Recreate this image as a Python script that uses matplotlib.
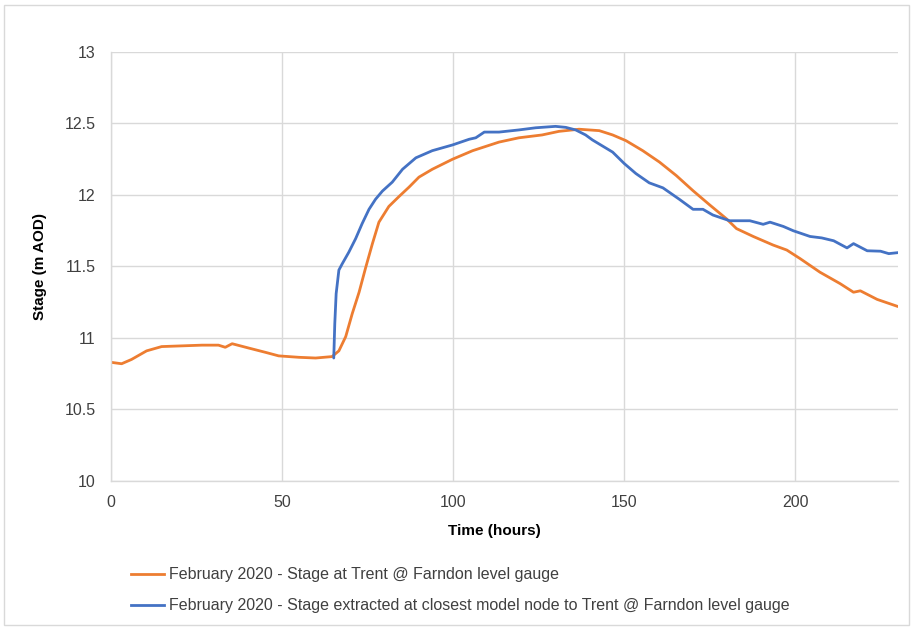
import matplotlib
matplotlib.use("Agg")
import matplotlib.pyplot as plt
from matplotlib.patches import Rectangle
from matplotlib.lines import Line2D

plt.rcParams['font.family'] = ['Liberation Sans', 'DejaVu Sans']

# Observed stage at Trent @ Farndon (orange)
obs_t = [0, 3.1, 6, 10.4, 14.8, 20.7, 26.6, 31.4, 33.4, 35.4, 40.2, 45.1, 49, 54.9, 59.8,
         64.6, 66.6, 68.6, 70.5, 72.5, 74.4, 76.4, 78.3, 81.2, 84.2, 87.1, 90, 93.9, 99.8,
         105.7, 113.4, 119.2, 126, 130.9, 136.8, 142.7, 146.6, 150.5, 155.4, 160.3, 165.2,
         170.1, 175, 179.8, 182.8, 187.7, 193.5, 197.5, 201.4, 207.2, 213.1, 217, 219,
         223.9, 230]
obs_v = [10.83, 10.82, 10.85, 10.91, 10.94, 10.945, 10.95, 10.95, 10.935, 10.96, 10.93,
         10.90, 10.875, 10.865, 10.86, 10.87, 10.91, 11.01, 11.17, 11.32, 11.49, 11.66,
         11.81, 11.92, 11.99, 12.055, 12.125, 12.18, 12.25, 12.31, 12.37, 12.40, 12.42,
         12.445, 12.46, 12.45, 12.42, 12.38, 12.31, 12.23, 12.136, 12.03, 11.93, 11.835,
         11.765, 11.71, 11.65, 11.615, 11.555, 11.46, 11.38, 11.32, 11.33, 11.27, 11.22]

# Modelled stage at closest model node (blue)
mod_t = [65.1, 65.4, 65.8, 66.6, 67.6, 69.5, 71.5, 73.4, 75.4, 77.3, 79.3, 82.2, 85.2,
         89.1, 93.9, 99.8, 104.7, 106.6, 109.1, 113.4, 119.2, 124.1, 129.9, 132.9, 135.8,
         138.7, 140.7, 146.6, 150, 153.4, 157.3, 161.3, 166.1, 170.1, 173, 175.9, 180.8,
         186.7, 190.6, 192.6, 196.5, 199.4, 204.3, 207.7, 211.2, 215.1, 217, 221, 224.9,
         227.3, 230]
mod_v = [10.86, 11.10, 11.31, 11.475, 11.52, 11.60, 11.695, 11.80, 11.90, 11.97, 12.027,
         12.09, 12.18, 12.26, 12.31, 12.35, 12.39, 12.40, 12.44, 12.44, 12.455, 12.47,
         12.48, 12.473, 12.455, 12.42, 12.385, 12.30, 12.22, 12.15, 12.085, 12.05, 11.97,
         11.90, 11.90, 11.86, 11.82, 11.82, 11.795, 11.81, 11.78, 11.75, 11.71, 11.70,
         11.68, 11.63, 11.66, 11.61, 11.607, 11.59, 11.597]

x_ticks = [0, 50, 100, 150, 200]
y_ticks = [10, 10.5, 11, 11.5, 12, 12.5, 13]
y_labels = ['10', '10.5', '11', '11.5', '12', '12.5', '13']

labels = ['February 2020 - Stage at Trent @ Farndon level gauge',
          'February 2020 - Stage extracted at closest model node to Trent @ Farndon level gauge']
orange = '#ED7D31'
blue = '#4472C4'
grid_c = '#D9D9D9'
text_c = '#404040'

fig = plt.figure(figsize=(9.13, 6.3), dpi=100)
ax = fig.add_axes([111/913, 1-481/630, (898-111)/913, (481-52)/630])

ax.plot(obs_t, obs_v, color=orange, lw=2, solid_capstyle='round')
ax.plot(mod_t, mod_v, color=blue, lw=2, solid_capstyle='round')

ax.set_xlim(0, 230)
ax.set_ylim(10, 13)
ax.set_xticks(x_ticks)
ax.set_yticks(y_ticks)
ax.set_yticklabels(y_labels)
ax.grid(True, color=grid_c, lw=1)
ax.set_axisbelow(True)
for s in ['top', 'right']:
    ax.spines[s].set_visible(False)
for s in ['left', 'bottom']:
    ax.spines[s].set_color(grid_c)
    ax.spines[s].set_linewidth(1)
ax.tick_params(length=0, labelsize=11.5, colors=text_c)
ax.tick_params(axis='y', pad=11)
ax.tick_params(axis='x', pad=10)

ax.set_xlabel('Time (hours)', fontsize=11, fontweight='bold', color='black', labelpad=10, x=0.487)
ax.set_ylabel('Stage (m AOD)', fontsize=11, fontweight='bold', color='black', labelpad=13)

handles = [Line2D([], [], color=orange, lw=2), Line2D([], [], color=blue, lw=2)]
fig.legend(handles, labels, loc='upper left', bbox_to_anchor=(117/913, 1-553/630),
           frameon=False, fontsize=11.5, handlelength=2.05, handletextpad=0.3,
           labelspacing=1.0, labelcolor=text_c)

fig.patches.append(Rectangle((4/913, 5/630), 905/913, 620/630, transform=fig.transFigure,
                             fill=False, edgecolor='#D9D9D9', lw=1))

fig.savefig('out.png', dpi=100)
